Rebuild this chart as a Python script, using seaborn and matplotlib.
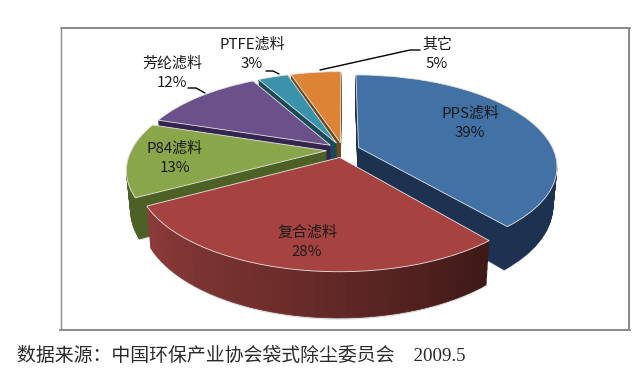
import numpy as np
import matplotlib
matplotlib.use('Agg')
import matplotlib.pyplot as plt
import seaborn as sns
from matplotlib.transforms import Transform

names = ['PPS滤料', '复合滤料', 'P84滤料', '芳纶滤料', 'PTFE滤料', '其它']
shares = [39, 28, 13, 12, 3, 5]
top_colors = ['#4271a6', '#a64341', '#8aa64a', '#6b5089', '#3a93ab', '#dd8335']
wall_colors = ['#1c3250', '#6a2a28', '#4d6126', '#33254d', '#1b4a58', '#6e4a20']
source_text = '数据来源：中国环保产业协会袋式除尘委员会    2009.5'

sns.set_theme(style='white')
plt.rcParams['font.family'] = ['Noto Sans CJK SC', 'DejaVu Sans']


class PiePerspective(Transform):
    # tilts the flat pie, far side smaller than the near side
    input_dims = 2
    output_dims = 2

    def __init__(self, drop=0.0):
        super().__init__()
        self.drop = drop

    def transform_non_affine(self, values):
        values = np.asarray(values)
        w = 1 + 0.2 * values[:, 1]
        shrink = 1 - 0.0005 * self.drop  # walls lean in a little
        x = 343 + 195 * shrink * values[:, 0] / w
        y = 150 - 88 * shrink * values[:, 1] / w + self.drop / w
        return np.column_stack([x, y])


fig = plt.figure(figsize=(6.42, 3.72), dpi=100)
ax = fig.add_axes([0, 0, 1, 1])

# back to front
draw_rank = [4, 5, 3, 2, 1, 0]
explode_by = 0.085
red_steps = 40
red_fade = sns.blend_palette(['#3f1917', '#6a2c2a', '#8c3b39'], red_steps)

# the split red wall has to move with the whole red slice
red_mid = (shares[0] + shares[1] / 2) / sum(shares)
red_angle = np.deg2rad(90 - 360 * red_mid)
red_center = (explode_by * np.cos(red_angle), explode_by * np.sin(red_angle))


def place_wedges(wedges, drop):
    for wedge in wedges:
        wedge.set_transform(PiePerspective(drop) + ax.transData)
        wedge.set_clip_on(False)


def draw_layer(drop, is_top):
    vals, cols, ranks, expl, split = [], [], [], [], []
    for i, share in enumerate(shares):
        if i == 1 and not is_top:
            vals += [share / red_steps] * red_steps
            cols += list(red_fade)
            ranks += [draw_rank[i]] * red_steps
            expl += [0.0] * red_steps
            split += [True] * red_steps
        else:
            vals.append(share)
            cols.append(top_colors[i] if is_top else wall_colors[i])
            ranks.append(draw_rank[i])
            expl.append(explode_by)
            split.append(False)
    wedges, _ = ax.pie(vals, colors=cols, explode=expl, startangle=90, counterclock=False)
    place_wedges(wedges, drop)
    for wedge, col, rank, is_split in zip(wedges, cols, ranks, split):
        if is_split:
            wedge.set_center(red_center)
        if is_top:
            wedge.set_edgecolor('#e6e6e6')
            wedge.set_linewidth(0.6)
            wedge.set_zorder(rank * 1000 + 500)
        else:
            wedge.set_edgecolor(col)
            wedge.set_linewidth(0.5)
            wedge.set_zorder(rank * 1000 + 100 - drop)


# soft grey shadow under the whole pie
shadow, _ = ax.pie(shares, colors=['#d9d9d9'] * len(shares), explode=[explode_by] * len(shares),
                   startangle=90, counterclock=False)
place_wedges(shadow, 40)
for wedge in shadow:
    wedge.set_zorder(5)

for drop in np.arange(38, 0, -1.0):
    draw_layer(drop, False)
draw_layer(0, True)

ax.set_aspect('auto')
ax.set_xlim(0, 642)
ax.set_ylim(372, 0)
ax.axis('off')

# frame
frame_col = '#8c8c8c'
ax.plot([61, 61], [28, 330], color=frame_col, lw=1.0, zorder=1)
ax.plot([60, 630], [330, 330], color=frame_col, lw=1.5, zorder=1)
ax.plot([61, 630], [28, 28], color=frame_col, lw=1.5, zorder=1)
ax.plot([629, 629], [28, 330], color=frame_col, lw=1.5, zorder=1)

# leader lines
lead = dict(color='black', lw=1.0, zorder=9000)
ax.plot([188, 196, 205], [88, 88, 93], **lead)
ax.plot([266, 273, 279], [71, 71, 74], **lead)
ax.plot([320, 410, 420], [70, 50, 50], **lead)

# labels
label_pos = [(470, 123), (307, 242), (175, 158), (172, 73), (252, 54), (437, 54)]
for name, share, (x, y) in zip(names, shares, label_pos):
    ax.text(x, y, f'{name}\n{share}%', ha='center', va='center', fontsize=10.8,
            color='#1a1a1a', linespacing=1.45, zorder=9500)

ax.text(17, 356, source_text, ha='left', va='center', fontsize=13.6, color='#2a2a2a',
        family=['Liberation Serif', 'Noto Sans CJK SC'])

fig.savefig('out.png', dpi=100)
